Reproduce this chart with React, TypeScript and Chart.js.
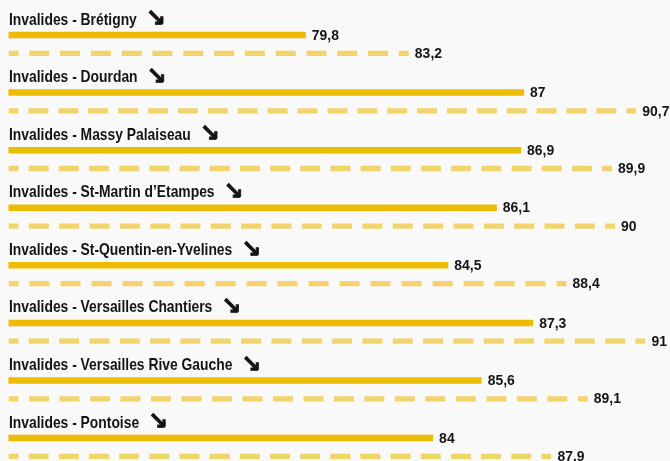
import React, { useEffect, useRef } from "react";
import { Chart, registerables } from "chart.js";

Chart.register(...registerables);

const categories = [
  "Invalides - Brétigny",
  "Invalides - Dourdan",
  "Invalides - Massy Palaiseau",
  "Invalides - St-Martin d’Etampes",
  "Invalides - St-Quentin-en-Yvelines",
  "Invalides - Versailles Chantiers",
  "Invalides - Versailles Rive Gauche",
  "Invalides - Pontoise",
];
const currentValues = [79.8, 87, 86.9, 86.1, 84.5, 87.3, 85.6, 84];
const previousValues = [83.2, 90.7, 89.9, 90, 88.4, 91, 89.1, 87.9];
const currentLabels = ["79,8", "87", "86,9", "86,1", "84,5", "87,3", "85,6", "84"];
const previousLabels = ["83,2", "90,7", "89,9", "90", "88,4", "91", "89,1", "87.9"];
const trendArrows = ["↘", "↘", "↘", "↘", "↘", "↘", "↘", "↘"];
const xMin = 70;
const xMax = 91.5;

const SOLID = "#ebbc00";
const DASHED = "#f2d46a";
const TEXT = "#141414";

function makeDashPattern(left: number, right: number): CanvasPattern | string {
  if (!isFinite(left) || !isFinite(right) || right - left < 25) return DASHED;
  const c = document.createElement("canvas");
  c.width = Math.ceil(right) + 4;
  c.height = 1;
  const g = c.getContext("2d");
  if (!g) return DASHED;
  g.fillStyle = DASHED;
  const half = 10;
  const dash = 20;
  const L = right - left;
  const n = Math.max(0, Math.round((L - 2 * half - 10.3) / (dash + 10.3)));
  const gap = (L - 2 * half - n * dash) / (n + 1);
  g.fillRect(left, 0, half, 1);
  let x = left + half + gap;
  for (let k = 0; k < n; k++) {
    g.fillRect(x, 0, dash, 1);
    x += dash + gap;
  }
  g.fillRect(right - half, 0, half, 1);
  const p = g.createPattern(c, "repeat");
  return p || DASHED;
}

function drawScaled(
  ctx: CanvasRenderingContext2D,
  text: string,
  x: number,
  y: number,
  sx: number
): number {
  ctx.save();
  ctx.translate(x, y);
  ctx.scale(sx, 1);
  ctx.fillText(text, 0, 0);
  const w = ctx.measureText(text).width * sx;
  ctx.restore();
  return w;
}

const LABEL_FONT = 'bold 17px "Liberation Sans"';
const VALUE_FONT = 'bold 15px "Liberation Sans"';
const ARROW_FONT = 'bold 24px "DejaVu Sans"';

const labelPlugin = {
  id: "groupLabels",
  afterDatasetsDraw(chart: any) {
    const ctx = chart.ctx as CanvasRenderingContext2D;
    const m0 = chart.getDatasetMeta(0);
    const m1 = chart.getDatasetMeta(1);
    ctx.save();
    ctx.fillStyle = TEXT;
    ctx.strokeStyle = TEXT;
    ctx.textAlign = "left";
    m0.data.forEach((bar: any, i: number) => {
      const { x, y } = bar.getProps(["x", "y"], true);
      ctx.font = LABEL_FONT;
      ctx.textBaseline = "alphabetic";
      const w = drawScaled(ctx, categories[i], 9, y - 10.5, 0.815);
      ctx.font = ARROW_FONT;
      ctx.textBaseline = "middle";
      ctx.lineWidth = 0.8;
      ctx.fillText(trendArrows[i], 9 + w + 9, y - 15);
      ctx.strokeText(trendArrows[i], 9 + w + 9, y - 15);
      ctx.font = VALUE_FONT;
      drawScaled(ctx, currentLabels[i], x + 6, y + 0.5, 0.93);
    });
    m1.data.forEach((bar: any, i: number) => {
      const { x, y } = bar.getProps(["x", "y"], true);
      ctx.font = VALUE_FONT;
      ctx.textBaseline = "middle";
      drawScaled(ctx, previousLabels[i], x + 6, y + 0.5, 0.93);
    });
    ctx.restore();
  },
};

export default function App() {
  const ref = useRef<HTMLCanvasElement | null>(null);
  useEffect(() => {
    if (!ref.current) return;
    const clip = { left: 0, top: false, right: false, bottom: false };
    const chart = new Chart(ref.current, {
      type: "bar",
      data: {
        labels: categories,
        datasets: [
          {
            data: currentValues,
            backgroundColor: SOLID,
            borderWidth: 0,
            categoryPercentage: 0.636,
            barPercentage: 0.355,
            clip,
          } as any,
          {
            data: previousValues,
            backgroundColor: (c: any) => {
              const xs = c.chart.scales && c.chart.scales.x;
              if (!xs || c.dataIndex === undefined) return DASHED;
              return makeDashPattern(
                xs.getPixelForValue(xMin),
                xs.getPixelForValue(previousValues[c.dataIndex])
              );
            },
            borderWidth: 0,
            categoryPercentage: 0.636,
            barPercentage: 0.29,
            clip,
          } as any,
        ],
      },
      options: {
        indexAxis: "y",
        animation: false,
        responsive: false,
        layout: { padding: { left: 8.5, right: 9.4, top: 44.2, bottom: 13.8 } },
        scales: {
          x: { type: "linear", min: xMin, max: xMax, display: false },
          y: { type: "category", offset: false, display: false },
        },
        plugins: { legend: { display: false }, tooltip: { enabled: false } },
        events: [],
      },
      plugins: [labelPlugin],
    });
    return () => chart.destroy();
  }, []);
  return (
    <div
      style={{
        position: "fixed",
        left: 0,
        top: 0,
        width: 670,
        height: 461,
        background: "#f9f9f9",
      }}
    >
      <canvas ref={ref} width={670} height={461} style={{ display: "block" }} />
    </div>
  );
}
